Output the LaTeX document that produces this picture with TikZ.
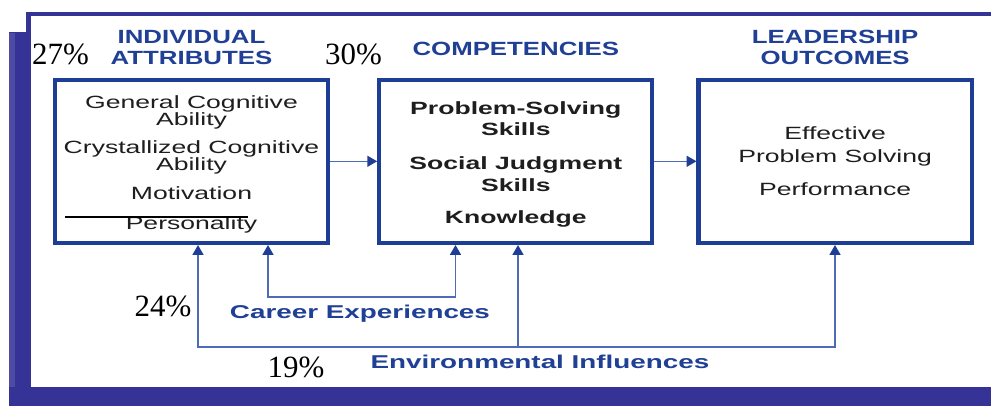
\documentclass[tikz,border=0pt]{standalone}
\usepackage{fontspec}
\setmainfont{Liberation Serif}
\newfontfamily\boxfont[FakeStretch=1.5]{Liberation Sans}
\newfontfamily\headfont[FakeStretch=1.35]{Liberation Sans}
\usetikzlibrary{arrows.meta,positioning,calc}

\definecolor{framecol}{RGB}{54,51,150}
\definecolor{boxblue}{RGB}{30,62,150}
\definecolor{headblue}{RGB}{32,64,150}
\definecolor{linkblue}{RGB}{78,108,182}
\definecolor{textgray}{RGB}{30,30,30}

\begin{document}
\begin{tikzpicture}[x=0.025cm, y=-0.025cm,
    box/.style={rectangle, draw=boxblue, line width=3pt, fill=white, minimum width=6.825cm, minimum height=4.08cm, align=center, text=textgray, inner sep=0pt},
    headtitle/.style={font=\headfont\bfseries\fontsize{13.6}{15}\selectfont, text=headblue, align=center, inner sep=0pt},
    flowlabel/.style={font=\boxfont\bfseries\fontsize{13.2}{15}\selectfont, text=headblue, inner sep=0pt, anchor=base},
    pct/.style={font=\fontsize{22}{24}\selectfont, inner sep=0pt, anchor=base},
    arrow/.style={-{Triangle[length=7pt,width=7.8pt,color=boxblue]}, draw=linkblue, line width=1pt},
    doublearrow/.style={{Triangle[length=7pt,width=7.8pt,color=boxblue]}-{Triangle[length=7pt,width=7.8pt,color=boxblue]}, draw=linkblue, line width=1pt}
]
    \useasboundingbox (0,0) rectangle (991,406);

    % Cornice
    \fill[white] (0,0) rectangle (991,406);
    \fill[framecol] (26,12) rectangle (991,16);
    \fill[framecol] (26,12) rectangle (31,33);
    \fill[framecol] (9,32) rectangle (31,406);
    \fill[framecol!88!white] (9,33) rectangle (15,406);
    \fill[framecol] (9,386.5) rectangle (991,406);

    % Riquadri
    \node[box, font=\boxfont\fontsize{12.6}{12.1}\selectfont] (attr) at (191.5,161.3) {\rule{0pt}{13.4pt}General Cognitive\\Ability\\[7.5pt]Crystallized Cognitive\\Ability\\[8.7pt]Motivation\\[9.2pt]Personality};
    \node[box, font=\boxfont\bfseries\fontsize{12.6}{15.4}\selectfont, right=1.175cm of attr] (comp) {\rule{0pt}{13.4pt}Problem-Solving\\Skills\\[8.6pt]Social Judgment\\Skills\\[7.4pt]Knowledge};
    \node[box, font=\boxfont\fontsize{12.6}{16.1}\selectfont, right=1.05cm of comp] (outc) {Effective\\Problem Solving\\[7.2pt]Performance};

    % Titoli
    \node[headtitle, above=0.31cm of attr] (attrtitle) {INDIVIDUAL\\ATTRIBUTES};
    \node[headtitle, above=0.55cm of comp] (comptitle) {COMPETENCIES};
    \node[headtitle, above=0.31cm of outc] (outctitle) {LEADERSHIP\\OUTCOMES};

    % Frecce tra riquadri
    \draw[arrow] (attr) -- (comp);
    \draw[arrow] (comp) -- (outc);

    % Esperienze di carriera
    \coordinate (careerL) at (268,297);
    \coordinate (careerR) at (455.5,297);
    \draw[doublearrow] (attr.south -| careerL) -- (careerL) -- (careerR) -- (comp.south -| careerR);
    \node[flowlabel] (career) at (360,318) {Career Experiences};

    % Influenze ambientali
    \coordinate (envL) at (198,347);
    \coordinate (envM) at (518,347);
    \coordinate (envR) at (835,347);
    \draw[doublearrow] (attr.south -| envL) -- (envL) -- (envR) -- (outc.south -| envR);
    \draw[arrow] (envM) -- (comp.south -| envM);
    \node[flowlabel] (env) at (540,368) {Environmental Influences};

    % Percentuali
    \node[pct] (pctattr) at (60.5,65) {27\%};
    \node[pct] (pctcomp) at (353.5,65) {30\%};
    \node[pct] (pctcareer) at (163,316) {24\%};
    \node[pct] (pctenv) at (296,377) {19\%};

    % Barra su Personality
    \coordinate (strikeL) at (65,217);
    \coordinate (strikeR) at (248,217);
    \draw[line width=1.4pt] (strikeL) -- (strikeR);
\end{tikzpicture}
\end{document}
